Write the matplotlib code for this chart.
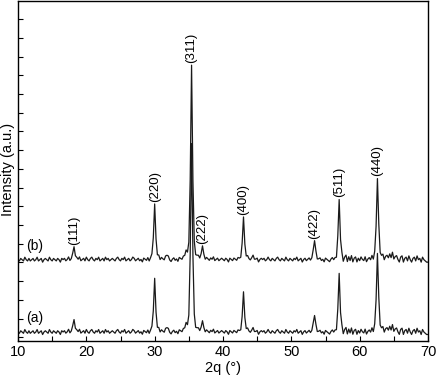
import numpy as np
import matplotlib
matplotlib.use("Agg")
import matplotlib.pyplot as plt

plt.rcParams['font.family'] = ['Liberation Sans', 'DejaVu Sans']

# ---- data ----
two_theta_start = 10.0
two_theta_step = 0.2
# hkl reflections
hkl_labels = ["(111)", "(220)", "(311)", "(222)", "(400)", "(422)", "(511)", "(440)"]
peak_pos = [18.2, 30.0, 35.4, 37.0, 43.0, 53.4, 57.0, 62.6]
peak_height_a = [500, 2100, 7600, 360, 1560, 760, 2200, 3200]
peak_height_b = [520, 2180, 7840, 460, 1660, 860, 2260, 3300]
# weak unlabeled features
minor_pos = [31.8, 34.6, 44.4, 64.8]
minor_height = [160, 120, 120, 140]
baseline_a = 210
baseline_b = 3110
# background wiggle (hand-read, pixel-ish units), one value per 0.2 deg
noise_px = [
    0, -1, 1, 0, -1, 2, 0, -1, 1, -1,
    0, 1, -1, 0, 2, -1, 0, 1, -2, 0,
    1, 0, -1, 2, 0, -1, 1, 0, -1, 1,
    0, -2, 1, 0, 1, -1, 0, 2, -1, 0,
    1, 0, -1, 1, 0, 2, -1, 0, 1, -1,
    2, 0, -1, 1, 2, 0, -1, 1, 0, 2,
    -1, 0, 1, -1, 2, 0, 1, -1, 0, 1,
    0, -1, 1, 2, 0, -1, 1, 0, 2, -1,
    0, 1, -1, 0, 2, 1, -1, 0, 1, -1,
    0, -2, 1, 0, -1, 1, -2, 0, 1, 0,
    1, -1, 0, 2, -1, 1, 0, -1, 1, 0,
    1, -1, -2, 0, 1, -1, 0, -2, 1, 0,
    -1, 1, 0, 2, -1, 0, 1, -1, 0, 1,
    -2, 0, 1, -1, 0, 1, 0, -1, 1, 0,
    -1, 1, 0, 2, -1, 0, 1, -1, 0, 1,
    0, -1, 1, 0, -2, 1, 0, -1, 1, 0,
    -1, 1, 0, -1, 0, 1, -1, 0, 2, 0,
    -1, 0, 1, -1, 0, 1, -2, 0, 1, 0,
    1, -1, 0, 2, 0, -1, 1, 0, -1, 1,
    2, 0, -1, 1, 0, -1, 2, 0, -1, 1,
    0, -1, 1, 0, 2, -1, 0, 1, -2, 0,
    1, -1, 0, 1, -1, 0, 1, -2, 0, -1,
    0, 1, -1, 0, -2, 1, 0, -1, -2, 0,
    1, -1, 0, -2, 1, 3, -2, 2, -3, 1,
    3, -2, 2, -1, 3, -2, 1, 2, -2, 1,
    -1, 2, 0, -1, 2, -2, 0, 1, -1, 2,
    -2, 1, 0, -1, 2, 0, 1, 3, -1, 2,
    3, 1, 4, 0, 3, -1, 2, 3, 0, -2,
    2, 3, -2, 1, 2, -1, 3, 0, -2, 1,
    2, -1, 3, 0, 1, -2, 2, 0, -1, -2,
    -2,
]
noise_scale = 50
series_labels = ["(a)", "(b)"]

# ---- build traces ----
x = two_theta_start + two_theta_step * np.arange(len(noise_px))
bg = np.array(noise_px, float) * noise_scale


def profile(center, height, fwhm=0.34, eta=0.5):
    g = np.exp(-4 * np.log(2) * (x - center) ** 2 / fwhm ** 2)
    l = 1.0 / (1 + 4 * (x - center) ** 2 / fwhm ** 2)
    return height * (eta * l + (1 - eta) * g)


def trace(base, heights):
    y = base + bg.copy()
    for p, h in zip(peak_pos, heights):
        y += profile(p, h)
    for p, h in zip(minor_pos, minor_height):
        y += profile(p, h, fwhm=0.4)
    return y


ya = trace(baseline_a, peak_height_a)
yb = trace(baseline_b, peak_height_b)

fig = plt.figure(figsize=(4.36, 3.76), dpi=100)
ax = fig.add_axes([18 / 436, 0.093, 410 / 436, 0.905])
ax.plot(x, ya, color='#1a1a1a', lw=0.9)
ax.plot(x, yb, color='#1a1a1a', lw=0.9)

ax.set_xlim(10, 70)
ax.set_ylim(-150, 13490)
ax.set_xticks([10, 20, 30, 40, 50, 60, 70])
ax.set_xticks([15, 25, 35, 45, 55, 65], minor=True)
ax.set_yticks(np.arange(0, 13490, 750))
ax.set_yticklabels([])
ax.tick_params(axis='both', which='both', direction='in', top=False, right=False,
               length=3.5, width=0.8, labelsize=10.5, pad=3)
for s in ax.spines.values():
    s.set_linewidth(1.0)

# hkl labels above (b) peaks
for lab, p in zip(hkl_labels, peak_pos):
    i = int(np.argmin(np.abs(x - p)))
    ax.annotate(lab, xy=(p, yb[i]), xytext=(0, 1.5), textcoords='offset points',
                rotation=90, ha='center', va='bottom', fontsize=9.5)

ax.text(12.4, baseline_a + 550, series_labels[0], ha='center', va='center', fontsize=10)
ax.text(12.4, baseline_b + 550, series_labels[1], ha='center', va='center', fontsize=10)

ax.set_xlabel("2q (°)", fontsize=10.5, labelpad=1)
fig.text(8 / 436, 1 - 169 / 376, "Intensity (a.u.)", rotation=90,
         ha='center', va='center', fontsize=10.5)

fig.savefig("out.png", dpi=100)
